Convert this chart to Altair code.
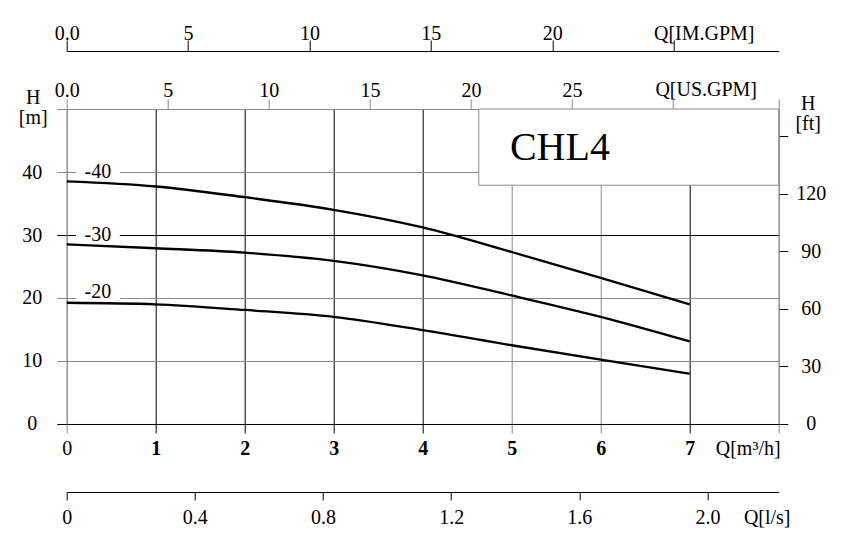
import altair as alt
import pandas as pd

# ---------------- data ----------------
q = [0, 1, 2, 3, 4, 5, 6, 7]
h_40 = [38.5, 37.7, 36.0, 34.0, 31.2, 27.3, 23.2, 19.0]
h_30 = [28.5, 27.9, 27.2, 25.9, 23.6, 20.4, 17.0, 13.1]
h_20 = [19.25, 19.0, 18.1, 17.0, 14.9, 12.5, 10.2, 8.0]
curve_names = ["-40", "-30", "-20"]
label_q = 0.35
label_h = [40, 30, 21]

q_ticks = [0, 1, 2, 3, 4, 5, 6, 7, 8]
dark_q = [1, 2, 3, 4, 7]
h_ticks = [0, 10, 20, 30, 40, 50]
dark_h = [0, 30]
usgpm_ticks = [0, 5, 10, 15, 20, 25, 30]
imgpm_ticks = [0, 5, 10, 15, 20, 25]
ls_ticks = [0, 0.4, 0.8, 1.2, 1.6, 2.0]
ft_ticks = [0, 30, 60, 90, 120, 150]

Q_MAX = 8
H_MAX = 50
US_PER_M3H = 4.40287
IM_PER_M3H = 3.66615
LS_PER_M3H = 1 / 3.6
FT_PER_M = 3.28084

box_q = [4.63, 8]
box_h = [37.9, 50]
model = "CHL4"
model_q = 4.98
model_h = 43.8

# ---------------- styling ----------------
FONT = "Liberation Serif"
FS = 20
GREY = "#8a8a8a"
W, H = 712, 315


def cond_color(vals):
    return {"condition": {"test": "indexof(%s, datum.value) >= 0" % str(vals), "value": "black"},
            "value": GREY}


curves = pd.DataFrame({
    "q": q * 3,
    "h": h_40 + h_30 + h_20,
    "s": [curve_names[0]] * len(q) + [curve_names[1]] * len(q) + [curve_names[2]] * len(q),
})
labels = pd.DataFrame({"q": [label_q] * 3, "h": label_h, "t": curve_names})
box = pd.DataFrame({"q0": [box_q[0]], "q1": [box_q[1]], "h0": [box_h[0]], "h1": [box_h[1]]})
model_df = pd.DataFrame({"q": [model_q], "h": [model_h], "t": [model]})

xs = alt.Scale(domain=[0, Q_MAX], nice=False, zero=False)
ys = alt.Scale(domain=[0, H_MAX], nice=False, zero=False)

x_axis = alt.Axis(
    orient="bottom", values=q_ticks, grid=True, gridColor=cond_color(dark_q), gridWidth=1,
    tickColor=cond_color(dark_q), tickSize=9, domainColor="black", domainWidth=1,
    labelExpr="datum.value == 8 ? '' : datum.label", labelFont=FONT, labelFontSize=FS,
    labelColor="black", labelBaseline="middle", labelPadding=16, labelFlush=False,
    labelOverlap=False,
    labelFontWeight={"condition": {"test": "datum.value > 0", "value": "bold"}, "value": "normal"},
    title="Q[m³/h]", titleX=681, titleY=25, titleAlign="center", titleBaseline="middle",
    titleFont=FONT, titleFontSize=FS, titleFontWeight="normal", titleColor="black",
)
y_axis = alt.Axis(
    orient="left", values=h_ticks, grid=True, gridColor=cond_color(dark_h), gridWidth=1,
    tickColor=cond_color(dark_h), tickSize=10, domainColor=GREY,
    labelExpr="datum.value == 50 ? '' : datum.label", labelFont=FONT, labelFontSize=FS,
    labelColor="black", labelAlign="center", labelBaseline="middle", labelPadding=25,
    labelFlush=False, labelOverlap=False,
    title=["H", "[m]"], titleAngle=0, titleX=-34, titleY=-12, titleAlign="center",
    titleBaseline="middle", titleLineHeight=21, titleFont=FONT, titleFontSize=FS,
    titleFontWeight="normal", titleColor="black",
)

curve_layer = alt.Chart(curves).mark_line(
    interpolate="monotone", color="black", strokeWidth=2.3
).encode(
    x=alt.X("q:Q", scale=xs, axis=x_axis),
    y=alt.Y("h:Q", scale=ys, axis=y_axis),
    detail="s:N",
)

label_bg = alt.Chart(labels).mark_point(
    shape="M-1,-0.4H1V0.4H-1Z", filled=True, fill="white", opacity=1, strokeWidth=0, size=1936
).encode(
    x=alt.X("q:Q", scale=xs, axis=None),
    y=alt.Y("h:Q", scale=ys, axis=None),
)
label_txt = alt.Chart(labels).mark_text(
    font=FONT, fontSize=FS, color="black", align="center", baseline="middle"
).encode(
    x=alt.X("q:Q", scale=xs, axis=None),
    y=alt.Y("h:Q", scale=ys, axis=None),
    text="t:N",
)

box_layer = alt.Chart(box).mark_rect(fill="white", stroke=GREY, strokeWidth=1).encode(
    x=alt.X("q0:Q", scale=xs, axis=None),
    x2="q1:Q",
    y=alt.Y("h0:Q", scale=ys, axis=None),
    y2="h1:Q",
)
model_layer = alt.Chart(model_df).mark_text(
    font=FONT, fontSize=40, color="black", align="left", baseline="middle"
).encode(
    x=alt.X("q:Q", scale=xs, axis=None),
    y=alt.Y("h:Q", scale=ys, axis=None),
    text="t:N",
)

# secondary axes
us_df = pd.DataFrame({"v": [0, Q_MAX * US_PER_M3H]})
us_layer = alt.Chart(us_df).mark_point(opacity=0).encode(
    x=alt.X("v:Q", scale=alt.Scale(domain=[0, Q_MAX * US_PER_M3H], nice=False, zero=False),
            axis=alt.Axis(
                orient="top", values=usgpm_ticks + [Q_MAX * US_PER_M3H], grid=False,
                domainColor=GREY, tickColor=GREY, tickSize=10,
                labelExpr="datum.value == 0 ? '0.0' : datum.value > 29 ? '' : datum.label",
                labelFont=FONT, labelFontSize=FS, labelColor="black", labelBaseline="middle",
                labelPadding=9, labelFlush=False, labelOverlap=False,
                title="Q[US.GPM]", titleX=639, titleY=-19.5, titleAlign="center",
                titleBaseline="middle", titleFont=FONT, titleFontSize=FS,
                titleFontWeight="normal", titleColor="black")),
)

im_df = pd.DataFrame({"v": [0, Q_MAX * IM_PER_M3H]})
im_layer = alt.Chart(im_df).mark_point(opacity=0).encode(
    x=alt.X("v:Q", scale=alt.Scale(domain=[0, Q_MAX * IM_PER_M3H], nice=False, zero=False),
            axis=alt.Axis(
                orient="top", offset=58, values=imgpm_ticks, grid=False,
                domainColor="black", tickColor="black", tickSize=11,
                labelExpr="datum.value == 0 ? '0.0' : datum.value == 25 ? '' : datum.label",
                labelFont=FONT, labelFontSize=FS, labelColor="black", labelBaseline="middle",
                labelPadding=7, labelFlush=False, labelOverlap=False,
                title="Q[IM.GPM]", titleX=637, titleY=-18, titleAlign="center",
                titleBaseline="middle", titleFont=FONT, titleFontSize=FS,
                titleFontWeight="normal", titleColor="black")),
)

ls_df = pd.DataFrame({"v": [0, Q_MAX * LS_PER_M3H]})
ls_layer = alt.Chart(ls_df).mark_point(opacity=0).encode(
    x=alt.X("v:Q", scale=alt.Scale(domain=[0, Q_MAX * LS_PER_M3H], nice=False, zero=False),
            axis=alt.Axis(
                orient="bottom", offset=68, values=ls_ticks, grid=False,
                domainColor="black", tickColor="black", tickSize=8,
                labelExpr="datum.value == 0 ? '0' : format(datum.value, '.1f')",
                labelFont=FONT, labelFontSize=FS, labelColor="black", labelBaseline="middle",
                labelPadding=18, labelFlush=False, labelOverlap=False,
                title="Q[l/s]", titleX=700, titleY=26, titleAlign="center",
                titleBaseline="middle", titleFont=FONT, titleFontSize=FS,
                titleFontWeight="normal", titleColor="black")),
)

ft_df = pd.DataFrame({"v": [0, H_MAX * FT_PER_M]})
ft_layer = alt.Chart(ft_df).mark_point(opacity=0).encode(
    y=alt.Y("v:Q", scale=alt.Scale(domain=[0, H_MAX * FT_PER_M], nice=False, zero=False),
            axis=alt.Axis(
                orient="right", values=ft_ticks, grid=False,
                domainColor=GREY, tickColor="black", tickSize=9,
                labelExpr="datum.value == 150 ? '' : datum.label",
                labelFont=FONT, labelFontSize=FS, labelColor="black", labelAlign="center",
                labelBaseline="middle", labelPadding=23, labelFlush=False, labelOverlap=False,
                title=["H", "[ft]"], titleAngle=0, titleX=29, titleY=-6, titleAlign="center",
                titleBaseline="middle", titleLineHeight=21, titleFont=FONT, titleFontSize=FS,
                titleFontWeight="normal", titleColor="black")),
)

chart = alt.layer(
    curve_layer, box_layer, model_layer, label_bg, label_txt,
    us_layer, im_layer, ls_layer, ft_layer,
).resolve_scale(
    x="independent", y="independent"
).properties(
    width=W, height=H,
    autosize=alt.AutoSizeParams(type="none"),
    padding={"left": 58.7, "top": 101, "right": 58, "bottom": 110},
    background="white",
).configure_view(stroke=None)

# draw order: label backgrounds under the curves, text on top
chart.layer = [box_layer, model_layer, label_bg, curve_layer, label_txt,
               us_layer, im_layer, ls_layer, ft_layer]

chart.save("out.html", embed_options={"renderer": "svg", "actions": False})
